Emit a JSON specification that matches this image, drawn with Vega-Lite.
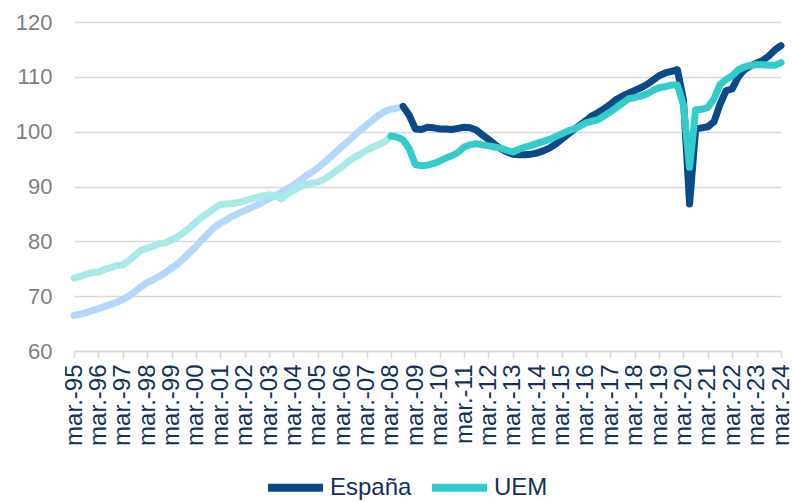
{
 "$schema": "https://vega.github.io/schema/vega-lite/v6.json",
 "width": 707,
 "height": 329,
 "autosize": {"type": "none"},
 "padding": {"left": 74, "top": 22, "right": 11, "bottom": 151},
 "background": "white",
 "config": {"view": {"stroke": null}, "font": "Liberation Sans"},
 "data": {"values": [
  {"grupo":"España (1995-2008)","t":1995,"valor":66.5},{"grupo":"España (1995-2008)","t":1995.25,"valor":66.7},{"grupo":"España (1995-2008)","t":1995.5,"valor":67.0},{"grupo":"España (1995-2008)","t":1995.75,"valor":67.4},
  {"grupo":"España (1995-2008)","t":1996,"valor":67.7},{"grupo":"España (1995-2008)","t":1996.25,"valor":68.1},{"grupo":"España (1995-2008)","t":1996.5,"valor":68.5},{"grupo":"España (1995-2008)","t":1996.75,"valor":68.9},
  {"grupo":"España (1995-2008)","t":1997,"valor":69.4},{"grupo":"España (1995-2008)","t":1997.25,"valor":70.0},{"grupo":"España (1995-2008)","t":1997.5,"valor":70.8},{"grupo":"España (1995-2008)","t":1997.75,"valor":71.7},
  {"grupo":"España (1995-2008)","t":1998,"valor":72.5},{"grupo":"España (1995-2008)","t":1998.25,"valor":73.0},{"grupo":"España (1995-2008)","t":1998.5,"valor":73.6},{"grupo":"España (1995-2008)","t":1998.75,"valor":74.3},
  {"grupo":"España (1995-2008)","t":1999,"valor":75.1},{"grupo":"España (1995-2008)","t":1999.25,"valor":75.9},{"grupo":"España (1995-2008)","t":1999.5,"valor":76.9},{"grupo":"España (1995-2008)","t":1999.75,"valor":78.0},
  {"grupo":"España (1995-2008)","t":2000,"valor":79.0},{"grupo":"España (1995-2008)","t":2000.25,"valor":80.3},{"grupo":"España (1995-2008)","t":2000.5,"valor":81.4},{"grupo":"España (1995-2008)","t":2000.75,"valor":82.5},
  {"grupo":"España (1995-2008)","t":2001,"valor":83.3},{"grupo":"España (1995-2008)","t":2001.25,"valor":83.9},{"grupo":"España (1995-2008)","t":2001.5,"valor":84.6},{"grupo":"España (1995-2008)","t":2001.75,"valor":85.1},
  {"grupo":"España (1995-2008)","t":2002,"valor":85.6},{"grupo":"España (1995-2008)","t":2002.25,"valor":86.1},{"grupo":"España (1995-2008)","t":2002.5,"valor":86.6},{"grupo":"España (1995-2008)","t":2002.75,"valor":87.2},
  {"grupo":"España (1995-2008)","t":2003,"valor":87.8},{"grupo":"España (1995-2008)","t":2003.25,"valor":88.3},{"grupo":"España (1995-2008)","t":2003.5,"valor":88.9},{"grupo":"España (1995-2008)","t":2003.75,"valor":89.6},
  {"grupo":"España (1995-2008)","t":2004,"valor":90.3},{"grupo":"España (1995-2008)","t":2004.25,"valor":91.0},{"grupo":"España (1995-2008)","t":2004.5,"valor":91.9},{"grupo":"España (1995-2008)","t":2004.75,"valor":92.6},
  {"grupo":"España (1995-2008)","t":2005,"valor":93.4},{"grupo":"España (1995-2008)","t":2005.25,"valor":94.3},{"grupo":"España (1995-2008)","t":2005.5,"valor":95.3},{"grupo":"España (1995-2008)","t":2005.75,"valor":96.3},
  {"grupo":"España (1995-2008)","t":2006,"valor":97.3},{"grupo":"España (1995-2008)","t":2006.25,"valor":98.3},{"grupo":"España (1995-2008)","t":2006.5,"valor":99.3},{"grupo":"España (1995-2008)","t":2006.75,"valor":100.3},
  {"grupo":"España (1995-2008)","t":2007,"valor":101.2},{"grupo":"España (1995-2008)","t":2007.25,"valor":102.1},{"grupo":"España (1995-2008)","t":2007.5,"valor":103.0},{"grupo":"España (1995-2008)","t":2007.75,"valor":103.7},
  {"grupo":"España (1995-2008)","t":2008,"valor":104.1},{"grupo":"España (1995-2008)","t":2008.25,"valor":104.3},{"grupo":"España (1995-2008)","t":2008.5,"valor":104.6},

  {"grupo":"UEM (1995-2008)","t":1995,"valor":73.3},{"grupo":"UEM (1995-2008)","t":1995.25,"valor":73.6},{"grupo":"UEM (1995-2008)","t":1995.5,"valor":74.0},{"grupo":"UEM (1995-2008)","t":1995.75,"valor":74.3},
  {"grupo":"UEM (1995-2008)","t":1996,"valor":74.4},{"grupo":"UEM (1995-2008)","t":1996.25,"valor":74.9},{"grupo":"UEM (1995-2008)","t":1996.5,"valor":75.2},{"grupo":"UEM (1995-2008)","t":1996.75,"valor":75.6},
  {"grupo":"UEM (1995-2008)","t":1997,"valor":75.7},{"grupo":"UEM (1995-2008)","t":1997.25,"valor":76.5},{"grupo":"UEM (1995-2008)","t":1997.5,"valor":77.4},{"grupo":"UEM (1995-2008)","t":1997.75,"valor":78.4},
  {"grupo":"UEM (1995-2008)","t":1998,"valor":78.7},{"grupo":"UEM (1995-2008)","t":1998.25,"valor":79.1},{"grupo":"UEM (1995-2008)","t":1998.5,"valor":79.6},{"grupo":"UEM (1995-2008)","t":1998.75,"valor":79.7},
  {"grupo":"UEM (1995-2008)","t":1999,"valor":80.3},{"grupo":"UEM (1995-2008)","t":1999.25,"valor":80.8},{"grupo":"UEM (1995-2008)","t":1999.5,"valor":81.6},{"grupo":"UEM (1995-2008)","t":1999.75,"valor":82.5},
  {"grupo":"UEM (1995-2008)","t":2000,"valor":83.5},{"grupo":"UEM (1995-2008)","t":2000.25,"valor":84.4},{"grupo":"UEM (1995-2008)","t":2000.5,"valor":85.2},{"grupo":"UEM (1995-2008)","t":2000.75,"valor":86.0},
  {"grupo":"UEM (1995-2008)","t":2001,"valor":86.7},{"grupo":"UEM (1995-2008)","t":2001.25,"valor":86.8},{"grupo":"UEM (1995-2008)","t":2001.5,"valor":86.9},{"grupo":"UEM (1995-2008)","t":2001.75,"valor":87.1},
  {"grupo":"UEM (1995-2008)","t":2002,"valor":87.4},{"grupo":"UEM (1995-2008)","t":2002.25,"valor":87.7},{"grupo":"UEM (1995-2008)","t":2002.5,"valor":88.0},{"grupo":"UEM (1995-2008)","t":2002.75,"valor":88.3},
  {"grupo":"UEM (1995-2008)","t":2003,"valor":88.5},{"grupo":"UEM (1995-2008)","t":2003.25,"valor":88.4},{"grupo":"UEM (1995-2008)","t":2003.5,"valor":87.7},{"grupo":"UEM (1995-2008)","t":2003.75,"valor":88.6},
  {"grupo":"UEM (1995-2008)","t":2004,"valor":89.3},{"grupo":"UEM (1995-2008)","t":2004.25,"valor":89.9},{"grupo":"UEM (1995-2008)","t":2004.5,"valor":90.4},{"grupo":"UEM (1995-2008)","t":2004.75,"valor":90.6},
  {"grupo":"UEM (1995-2008)","t":2005,"valor":90.8},{"grupo":"UEM (1995-2008)","t":2005.25,"valor":91.3},{"grupo":"UEM (1995-2008)","t":2005.5,"valor":92.0},{"grupo":"UEM (1995-2008)","t":2005.75,"valor":92.8},
  {"grupo":"UEM (1995-2008)","t":2006,"valor":93.6},{"grupo":"UEM (1995-2008)","t":2006.25,"valor":94.6},{"grupo":"UEM (1995-2008)","t":2006.5,"valor":95.3},{"grupo":"UEM (1995-2008)","t":2006.75,"valor":95.9},
  {"grupo":"UEM (1995-2008)","t":2007,"valor":96.6},{"grupo":"UEM (1995-2008)","t":2007.25,"valor":97.2},{"grupo":"UEM (1995-2008)","t":2007.5,"valor":97.6},{"grupo":"UEM (1995-2008)","t":2007.75,"valor":98.2},
  {"grupo":"UEM (1995-2008)","t":2008,"valor":99.2},

  {"grupo":"España","t":2008.5,"valor":104.6},{"grupo":"España","t":2008.75,"valor":103.0},
  {"grupo":"España","t":2009,"valor":100.5},{"grupo":"España","t":2009.25,"valor":100.4},{"grupo":"España","t":2009.5,"valor":100.8},{"grupo":"España","t":2009.75,"valor":100.7},
  {"grupo":"España","t":2010,"valor":100.5},{"grupo":"España","t":2010.25,"valor":100.5},{"grupo":"España","t":2010.5,"valor":100.4},{"grupo":"España","t":2010.75,"valor":100.6},
  {"grupo":"España","t":2011,"valor":100.8},{"grupo":"España","t":2011.25,"valor":100.7},{"grupo":"España","t":2011.5,"valor":100.3},{"grupo":"España","t":2011.75,"valor":99.4},
  {"grupo":"España","t":2012,"valor":98.6},{"grupo":"España","t":2012.25,"valor":97.7},{"grupo":"España","t":2012.5,"valor":96.9},{"grupo":"España","t":2012.75,"valor":96.3},
  {"grupo":"España","t":2013,"valor":95.9},{"grupo":"España","t":2013.25,"valor":95.8},{"grupo":"España","t":2013.5,"valor":95.8},{"grupo":"España","t":2013.75,"valor":95.9},
  {"grupo":"España","t":2014,"valor":96.1},{"grupo":"España","t":2014.25,"valor":96.5},{"grupo":"España","t":2014.5,"valor":97.0},{"grupo":"España","t":2014.75,"valor":97.7},
  {"grupo":"España","t":2015,"valor":98.6},{"grupo":"España","t":2015.25,"valor":99.5},{"grupo":"España","t":2015.5,"valor":100.4},{"grupo":"España","t":2015.75,"valor":101.2},
  {"grupo":"España","t":2016,"valor":102.0},{"grupo":"España","t":2016.25,"valor":102.9},{"grupo":"España","t":2016.5,"valor":103.5},{"grupo":"España","t":2016.75,"valor":104.2},
  {"grupo":"España","t":2017,"valor":105.0},{"grupo":"España","t":2017.25,"valor":105.9},{"grupo":"España","t":2017.5,"valor":106.5},{"grupo":"España","t":2017.75,"valor":107.0},
  {"grupo":"España","t":2018,"valor":107.5},{"grupo":"España","t":2018.25,"valor":108.0},{"grupo":"España","t":2018.5,"valor":108.6},{"grupo":"España","t":2018.75,"valor":109.4},
  {"grupo":"España","t":2019,"valor":110.2},{"grupo":"España","t":2019.25,"valor":110.7},{"grupo":"España","t":2019.5,"valor":111.0},{"grupo":"España","t":2019.75,"valor":111.3},
  {"grupo":"España","t":2020,"valor":105.8},{"grupo":"España","t":2020.25,"valor":86.8},{"grupo":"España","t":2020.5,"valor":100.5},{"grupo":"España","t":2020.75,"valor":100.7},
  {"grupo":"España","t":2021,"valor":100.9},{"grupo":"España","t":2021.25,"valor":101.8},{"grupo":"España","t":2021.5,"valor":105.0},{"grupo":"España","t":2021.75,"valor":107.5},
  {"grupo":"España","t":2022,"valor":107.8},{"grupo":"España","t":2022.25,"valor":110.0},{"grupo":"España","t":2022.5,"valor":111.3},{"grupo":"España","t":2022.75,"valor":112.0},
  {"grupo":"España","t":2023,"valor":112.5},{"grupo":"España","t":2023.25,"valor":113.0},{"grupo":"España","t":2023.5,"valor":113.8},{"grupo":"España","t":2023.75,"valor":114.9},
  {"grupo":"España","t":2024,"valor":115.7},

  {"grupo":"UEM","t":2008,"valor":99.2},{"grupo":"UEM","t":2008.25,"valor":99.0},{"grupo":"UEM","t":2008.5,"valor":98.5},{"grupo":"UEM","t":2008.75,"valor":96.9},
  {"grupo":"UEM","t":2009,"valor":94.0},{"grupo":"UEM","t":2009.25,"valor":93.8},{"grupo":"UEM","t":2009.5,"valor":93.9},{"grupo":"UEM","t":2009.75,"valor":94.2},
  {"grupo":"UEM","t":2010,"valor":94.6},{"grupo":"UEM","t":2010.25,"valor":95.2},{"grupo":"UEM","t":2010.5,"valor":95.6},{"grupo":"UEM","t":2010.75,"valor":96.2},
  {"grupo":"UEM","t":2011,"valor":97.2},{"grupo":"UEM","t":2011.25,"valor":97.6},{"grupo":"UEM","t":2011.5,"valor":97.8},{"grupo":"UEM","t":2011.75,"valor":97.6},
  {"grupo":"UEM","t":2012,"valor":97.4},{"grupo":"UEM","t":2012.25,"valor":97.2},{"grupo":"UEM","t":2012.5,"valor":97.0},{"grupo":"UEM","t":2012.75,"valor":96.6},
  {"grupo":"UEM","t":2013,"valor":96.3},{"grupo":"UEM","t":2013.25,"valor":96.8},{"grupo":"UEM","t":2013.5,"valor":97.2},{"grupo":"UEM","t":2013.75,"valor":97.5},
  {"grupo":"UEM","t":2014,"valor":97.9},{"grupo":"UEM","t":2014.25,"valor":98.2},{"grupo":"UEM","t":2014.5,"valor":98.6},{"grupo":"UEM","t":2014.75,"valor":99.1},
  {"grupo":"UEM","t":2015,"valor":99.6},{"grupo":"UEM","t":2015.25,"valor":100.1},{"grupo":"UEM","t":2015.5,"valor":100.5},{"grupo":"UEM","t":2015.75,"valor":101.0},
  {"grupo":"UEM","t":2016,"valor":101.6},{"grupo":"UEM","t":2016.25,"valor":101.9},{"grupo":"UEM","t":2016.5,"valor":102.2},{"grupo":"UEM","t":2016.75,"valor":102.9},
  {"grupo":"UEM","t":2017,"valor":103.6},{"grupo":"UEM","t":2017.25,"valor":104.4},{"grupo":"UEM","t":2017.5,"valor":105.2},{"grupo":"UEM","t":2017.75,"valor":106.0},
  {"grupo":"UEM","t":2018,"valor":106.2},{"grupo":"UEM","t":2018.25,"valor":106.5},{"grupo":"UEM","t":2018.5,"valor":106.9},{"grupo":"UEM","t":2018.75,"valor":107.5},
  {"grupo":"UEM","t":2019,"valor":108.0},{"grupo":"UEM","t":2019.25,"valor":108.2},{"grupo":"UEM","t":2019.5,"valor":108.5},{"grupo":"UEM","t":2019.75,"valor":108.5},
  {"grupo":"UEM","t":2020,"valor":104.8},{"grupo":"UEM","t":2020.25,"valor":93.5},{"grupo":"UEM","t":2020.5,"valor":104.0},{"grupo":"UEM","t":2020.75,"valor":104.1},
  {"grupo":"UEM","t":2021,"valor":104.4},{"grupo":"UEM","t":2021.25,"valor":106.0},{"grupo":"UEM","t":2021.5,"valor":108.6},{"grupo":"UEM","t":2021.75,"valor":109.5},
  {"grupo":"UEM","t":2022,"valor":110.2},{"grupo":"UEM","t":2022.25,"valor":111.3},{"grupo":"UEM","t":2022.5,"valor":111.8},{"grupo":"UEM","t":2022.75,"valor":112.1},
  {"grupo":"UEM","t":2023,"valor":112.2},{"grupo":"UEM","t":2023.25,"valor":112.2},{"grupo":"UEM","t":2023.5,"valor":112.1},{"grupo":"UEM","t":2023.75,"valor":112.1},
  {"grupo":"UEM","t":2024,"valor":112.6}
 ]},
 "mark": {"type": "line", "strokeWidth": 7, "strokeCap": "round", "strokeJoin": "round"},
 "encoding": {
  "x": {
   "field": "t", "type": "quantitative",
   "scale": {"domain": [1995, 2024], "nice": false, "zero": false},
   "axis": {
    "title": null,
    "values": [1995,1996,1997,1998,1999,2000,2001,2002,2003,2004,2005,2006,2007,2008,2009,2010,2011,2012,2013,2014,2015,2016,2017,2018,2019,2020,2021,2022,2023,2024],
    "labelExpr": "'mar.-' + (datum.value % 100 < 10 ? '0' : '') + (datum.value % 100)",
    "labelAngle": -90,
    "labelFontSize": 24,
    "labelColor": "#13315c",
    "labelOverlap": false,
    "labelFlush": false,
    "labelBound": false,
    "labelPadding": 6,
    "domainColor": "#d9d9d9",
    "domainWidth": 1.5,
    "tickColor": "#d9d9d9",
    "tickWidth": 1.5,
    "tickSize": 7,
    "grid": false
   }
  },
  "y": {
   "field": "valor", "type": "quantitative",
   "scale": {"domain": [60, 120], "nice": false, "zero": false},
   "axis": {
    "title": null,
    "values": [60, 70, 80, 90, 100, 110, 120],
    "domain": false,
    "ticks": false,
    "labelFontSize": 22,
    "labelColor": "#7f7f7f",
    "labelPadding": 22,
    "gridColor": "#d9d9d9",
    "gridWidth": 1.5
   }
  },
  "color": {
   "field": "grupo", "type": "nominal",
   "scale": {
    "domain": ["España", "UEM", "España (1995-2008)", "UEM (1995-2008)"],
    "range": ["#0a4a86", "#33cccc", "#b4d7fc", "#a8eae7"]
   },
   "legend": {
    "values": ["España", "UEM"],
    "title": null,
    "orient": "none",
    "legendX": 190,
    "legendY": 434,
    "direction": "horizontal",
    "symbolType": "stroke",
    "symbolSize": 3025,
    "symbolStrokeWidth": 8,
    "labelFontSize": 24,
    "labelColor": "#13315c",
    "labelOffset": 3,
    "columnPadding": 4
   }
  }
 }
}
